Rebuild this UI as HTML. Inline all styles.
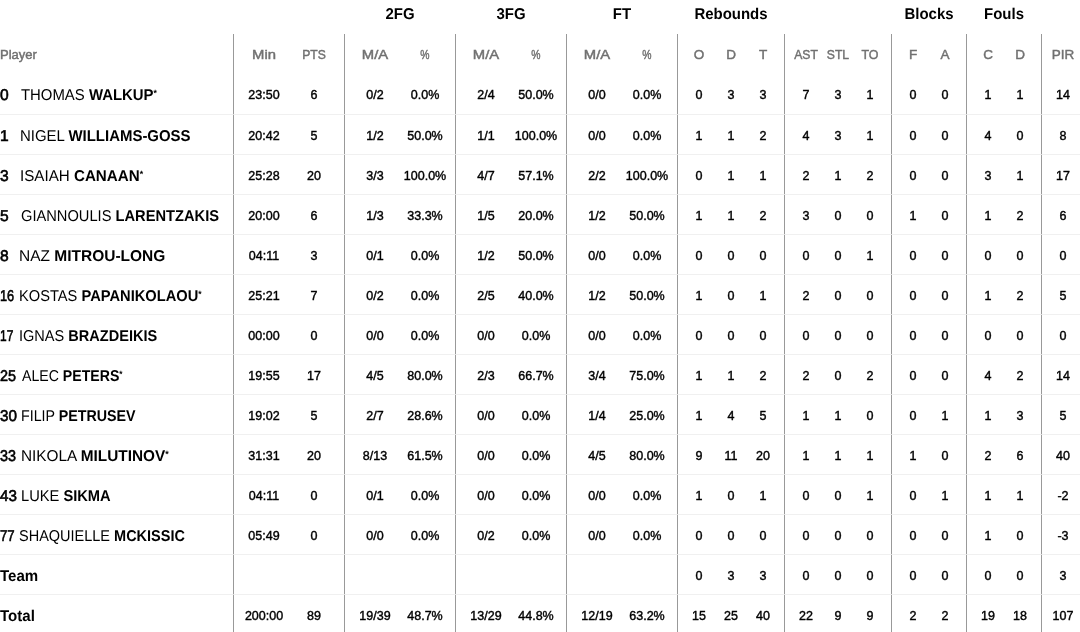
<!DOCTYPE html><html><head><meta charset="utf-8"><title>Box score</title><style>
*{margin:0;padding:0;box-sizing:border-box}
html,body{width:1080px;height:632px;overflow:hidden;background:#fff}
body{position:relative;font-family:"Liberation Sans",Arial,sans-serif;color:#000}
.g{position:absolute;top:0;height:29px;line-height:29px;text-align:center;font-weight:700;font-size:15.6px;color:#000;text-rendering:geometricPrecision;transform:scaleX(0.96)}
.h{position:absolute;top:34px;height:41px;line-height:41px;text-align:center;font-size:13.5px;color:#707070;width:60px;-webkit-text-stroke:0.45px #707070}
.vl{position:absolute;top:34px;bottom:0;width:1px;background:#999}
.hl{position:absolute;left:0;width:1080px;height:1px;background:#f0f0f0}
.d{position:absolute;width:1px;height:1px;background:#dcdcdc}
.r{position:absolute;left:0;width:1080px;height:39px}
.c{position:absolute;top:1px;height:39px;line-height:39px;text-align:center;width:60px;font-size:12.5px;color:#000;-webkit-text-stroke:0.4px #000}
.p{position:absolute;left:0;top:1px;height:39px;line-height:39px;font-size:15.6px;text-rendering:geometricPrecision;white-space:nowrap;color:#000}
.p .n{position:absolute;left:0;top:0;font-weight:400;-webkit-text-stroke:0.6px #000;font-size:15.6px;transform-origin:0 50%}
.p .nm{position:absolute;top:0;transform-origin:0 25px}
.p .f{font-weight:400}
.p .l{font-weight:700}
.p sup{font-size:9px;vertical-align:baseline;position:relative;top:-4px;font-weight:700;line-height:0;letter-spacing:0}
.p.tb{font-weight:700;font-size:15.6px;top:1px;transform-origin:0 50%;transform:scaleX(0.965)}
</style></head><body>
<div class="g" style="left:344px;width:112px">2FG</div>
<div class="g" style="left:455px;width:112px">3FG</div>
<div class="g" style="left:566px;width:112px">FT</div>
<div class="g" style="left:677px;width:108px">Rebounds</div>
<div class="g" style="left:891px;width:76px">Blocks</div>
<div class="g" style="left:966px;width:76px">Fouls</div>
<div class="h" style="left:0;width:100px;text-align:left;font-size:13px">Player</div>
<div class="h" style="left:234px;transform:scaleX(1.1)">Min</div>
<div class="h" style="left:284px;transform:scaleX(0.9)">PTS</div>
<div class="h" style="left:345px;transform:scaleX(1.1)">M/A</div>
<div class="h" style="left:395px;transform:scaleX(0.77)">%</div>
<div class="h" style="left:456px;transform:scaleX(1.1)">M/A</div>
<div class="h" style="left:506px;transform:scaleX(0.77)">%</div>
<div class="h" style="left:567px;transform:scaleX(1.1)">M/A</div>
<div class="h" style="left:617px;transform:scaleX(0.77)">%</div>
<div class="h" style="left:669px">O</div>
<div class="h" style="left:701px">D</div>
<div class="h" style="left:733px">T</div>
<div class="h" style="left:776px;transform:scaleX(0.9)">AST</div>
<div class="h" style="left:808px;transform:scaleX(0.9)">STL</div>
<div class="h" style="left:840px;transform:scaleX(0.92)">TO</div>
<div class="h" style="left:883px">F</div>
<div class="h" style="left:915px">A</div>
<div class="h" style="left:958px">C</div>
<div class="h" style="left:990px">D</div>
<div class="h" style="left:1033px">PIR</div>
<div class="vl" style="left:233px"></div>
<div class="vl" style="left:344px"></div>
<div class="vl" style="left:455px"></div>
<div class="vl" style="left:566px"></div>
<div class="vl" style="left:677px"></div>
<div class="vl" style="left:784px"></div>
<div class="vl" style="left:891px"></div>
<div class="vl" style="left:966px"></div>
<div class="vl" style="left:1041px"></div>
<div class="r" style="top:75px"><div class="p"><span class="n" style="transform:scaleX(1)">0</span><span class="nm" style="left:20.8px;transform:scaleX(0.9556)"><span class="f">THOMAS</span> <span class="l">WALKUP</span><sup>*</sup></span></div><div class="c" style="left:234px">23:50</div><div class="c" style="left:284px">6</div><div class="c" style="left:345px">0/2</div><div class="c" style="left:395px">0.0%</div><div class="c" style="left:456px">2/4</div><div class="c" style="left:506px">50.0%</div><div class="c" style="left:567px">0/0</div><div class="c" style="left:617px">0.0%</div><div class="c" style="left:669px">0</div><div class="c" style="left:701px">3</div><div class="c" style="left:733px">3</div><div class="c" style="left:776px">7</div><div class="c" style="left:808px">3</div><div class="c" style="left:840px">1</div><div class="c" style="left:883px">0</div><div class="c" style="left:915px">0</div><div class="c" style="left:958px">1</div><div class="c" style="left:990px">1</div><div class="c" style="left:1033px">14</div></div>
<div class="hl" style="top:114px"></div>
<div class="r" style="top:116px"><div class="p"><span class="n" style="transform:scaleX(1)">1</span><span class="nm" style="left:19.5px;transform:scaleX(0.9587)"><span class="f">NIGEL</span> <span class="l">WILLIAMS-GOSS</span></span></div><div class="c" style="left:234px">20:42</div><div class="c" style="left:284px">5</div><div class="c" style="left:345px">1/2</div><div class="c" style="left:395px">50.0%</div><div class="c" style="left:456px">1/1</div><div class="c" style="left:506px">100.0%</div><div class="c" style="left:567px">0/0</div><div class="c" style="left:617px">0.0%</div><div class="c" style="left:669px">1</div><div class="c" style="left:701px">1</div><div class="c" style="left:733px">2</div><div class="c" style="left:776px">4</div><div class="c" style="left:808px">3</div><div class="c" style="left:840px">1</div><div class="c" style="left:883px">0</div><div class="c" style="left:915px">0</div><div class="c" style="left:958px">4</div><div class="c" style="left:990px">0</div><div class="c" style="left:1033px">8</div></div>
<div class="hl" style="top:154px"></div>
<div class="r" style="top:156px"><div class="p"><span class="n" style="transform:scaleX(1)">3</span><span class="nm" style="left:19.5px;transform:scaleX(0.9722)"><span class="f">ISAIAH</span> <span class="l">CANAAN</span><sup>*</sup></span></div><div class="c" style="left:234px">25:28</div><div class="c" style="left:284px">20</div><div class="c" style="left:345px">3/3</div><div class="c" style="left:395px">100.0%</div><div class="c" style="left:456px">4/7</div><div class="c" style="left:506px">57.1%</div><div class="c" style="left:567px">2/2</div><div class="c" style="left:617px">100.0%</div><div class="c" style="left:669px">0</div><div class="c" style="left:701px">1</div><div class="c" style="left:733px">1</div><div class="c" style="left:776px">2</div><div class="c" style="left:808px">1</div><div class="c" style="left:840px">2</div><div class="c" style="left:883px">0</div><div class="c" style="left:915px">0</div><div class="c" style="left:958px">3</div><div class="c" style="left:990px">1</div><div class="c" style="left:1033px">17</div></div>
<div class="hl" style="top:194px"></div>
<div class="r" style="top:196px"><div class="p"><span class="n" style="transform:scaleX(1)">5</span><span class="nm" style="left:20.5px;transform:scaleX(0.9407)"><span class="f">GIANNOULIS</span> <span class="l">LARENTZAKIS</span></span></div><div class="c" style="left:234px">20:00</div><div class="c" style="left:284px">6</div><div class="c" style="left:345px">1/3</div><div class="c" style="left:395px">33.3%</div><div class="c" style="left:456px">1/5</div><div class="c" style="left:506px">20.0%</div><div class="c" style="left:567px">1/2</div><div class="c" style="left:617px">50.0%</div><div class="c" style="left:669px">1</div><div class="c" style="left:701px">1</div><div class="c" style="left:733px">2</div><div class="c" style="left:776px">3</div><div class="c" style="left:808px">0</div><div class="c" style="left:840px">0</div><div class="c" style="left:883px">1</div><div class="c" style="left:915px">0</div><div class="c" style="left:958px">1</div><div class="c" style="left:990px">2</div><div class="c" style="left:1033px">6</div></div>
<div class="hl" style="top:234px"></div>
<div class="r" style="top:236px"><div class="p"><span class="n" style="transform:scaleX(1)">8</span><span class="nm" style="left:18.9px;transform:scaleX(0.9938)"><span class="f">NAZ</span> <span class="l">MITROU-LONG</span></span></div><div class="c" style="left:234px">04:11</div><div class="c" style="left:284px">3</div><div class="c" style="left:345px">0/1</div><div class="c" style="left:395px">0.0%</div><div class="c" style="left:456px">1/2</div><div class="c" style="left:506px">50.0%</div><div class="c" style="left:567px">0/0</div><div class="c" style="left:617px">0.0%</div><div class="c" style="left:669px">0</div><div class="c" style="left:701px">0</div><div class="c" style="left:733px">0</div><div class="c" style="left:776px">0</div><div class="c" style="left:808px">0</div><div class="c" style="left:840px">1</div><div class="c" style="left:883px">0</div><div class="c" style="left:915px">0</div><div class="c" style="left:958px">0</div><div class="c" style="left:990px">0</div><div class="c" style="left:1033px">0</div></div>
<div class="hl" style="top:274px"></div>
<div class="r" style="top:276px"><div class="p"><span class="n" style="transform:scaleX(0.818)">16</span><span class="nm" style="left:18.9px;transform:scaleX(0.9404)"><span class="f">KOSTAS</span> <span class="l">PAPANIKOLAOU</span><sup>*</sup></span></div><div class="c" style="left:234px">25:21</div><div class="c" style="left:284px">7</div><div class="c" style="left:345px">0/2</div><div class="c" style="left:395px">0.0%</div><div class="c" style="left:456px">2/5</div><div class="c" style="left:506px">40.0%</div><div class="c" style="left:567px">1/2</div><div class="c" style="left:617px">50.0%</div><div class="c" style="left:669px">1</div><div class="c" style="left:701px">0</div><div class="c" style="left:733px">1</div><div class="c" style="left:776px">2</div><div class="c" style="left:808px">0</div><div class="c" style="left:840px">0</div><div class="c" style="left:883px">0</div><div class="c" style="left:915px">0</div><div class="c" style="left:958px">1</div><div class="c" style="left:990px">2</div><div class="c" style="left:1033px">5</div></div>
<div class="hl" style="top:314px"></div>
<div class="r" style="top:316px"><div class="p"><span class="n" style="transform:scaleX(0.768)">17</span><span class="nm" style="left:18.9px;transform:scaleX(0.9327)"><span class="f">IGNAS</span> <span class="l">BRAZDEIKIS</span></span></div><div class="c" style="left:234px">00:00</div><div class="c" style="left:284px">0</div><div class="c" style="left:345px">0/0</div><div class="c" style="left:395px">0.0%</div><div class="c" style="left:456px">0/0</div><div class="c" style="left:506px">0.0%</div><div class="c" style="left:567px">0/0</div><div class="c" style="left:617px">0.0%</div><div class="c" style="left:669px">0</div><div class="c" style="left:701px">0</div><div class="c" style="left:733px">0</div><div class="c" style="left:776px">0</div><div class="c" style="left:808px">0</div><div class="c" style="left:840px">0</div><div class="c" style="left:883px">0</div><div class="c" style="left:915px">0</div><div class="c" style="left:958px">0</div><div class="c" style="left:990px">0</div><div class="c" style="left:1033px">0</div></div>
<div class="hl" style="top:354px"></div>
<div class="r" style="top:356px"><div class="p"><span class="n" style="transform:scaleX(0.924)">25</span><span class="nm" style="left:21.5px;transform:scaleX(0.9054)"><span class="f">ALEC</span> <span class="l">PETERS</span><sup>*</sup></span></div><div class="c" style="left:234px">19:55</div><div class="c" style="left:284px">17</div><div class="c" style="left:345px">4/5</div><div class="c" style="left:395px">80.0%</div><div class="c" style="left:456px">2/3</div><div class="c" style="left:506px">66.7%</div><div class="c" style="left:567px">3/4</div><div class="c" style="left:617px">75.0%</div><div class="c" style="left:669px">1</div><div class="c" style="left:701px">1</div><div class="c" style="left:733px">2</div><div class="c" style="left:776px">2</div><div class="c" style="left:808px">0</div><div class="c" style="left:840px">2</div><div class="c" style="left:883px">0</div><div class="c" style="left:915px">0</div><div class="c" style="left:958px">4</div><div class="c" style="left:990px">2</div><div class="c" style="left:1033px">14</div></div>
<div class="hl" style="top:394px"></div>
<div class="r" style="top:396px"><div class="p"><span class="n" style="transform:scaleX(0.976)">30</span><span class="nm" style="left:20.9px;transform:scaleX(0.9137)"><span class="f">FILIP</span> <span class="l">PETRUSEV</span></span></div><div class="c" style="left:234px">19:02</div><div class="c" style="left:284px">5</div><div class="c" style="left:345px">2/7</div><div class="c" style="left:395px">28.6%</div><div class="c" style="left:456px">0/0</div><div class="c" style="left:506px">0.0%</div><div class="c" style="left:567px">1/4</div><div class="c" style="left:617px">25.0%</div><div class="c" style="left:669px">1</div><div class="c" style="left:701px">4</div><div class="c" style="left:733px">5</div><div class="c" style="left:776px">1</div><div class="c" style="left:808px">1</div><div class="c" style="left:840px">0</div><div class="c" style="left:883px">0</div><div class="c" style="left:915px">1</div><div class="c" style="left:958px">1</div><div class="c" style="left:990px">3</div><div class="c" style="left:1033px">5</div></div>
<div class="hl" style="top:434px"></div>
<div class="r" style="top:436px"><div class="p"><span class="n" style="transform:scaleX(0.924)">33</span><span class="nm" style="left:20.5px;transform:scaleX(0.9845)"><span class="f">NIKOLA</span> <span class="l">MILUTINOV</span><sup>*</sup></span></div><div class="c" style="left:234px">31:31</div><div class="c" style="left:284px">20</div><div class="c" style="left:345px">8/13</div><div class="c" style="left:395px">61.5%</div><div class="c" style="left:456px">0/0</div><div class="c" style="left:506px">0.0%</div><div class="c" style="left:567px">4/5</div><div class="c" style="left:617px">80.0%</div><div class="c" style="left:669px">9</div><div class="c" style="left:701px">11</div><div class="c" style="left:733px">20</div><div class="c" style="left:776px">1</div><div class="c" style="left:808px">1</div><div class="c" style="left:840px">1</div><div class="c" style="left:883px">1</div><div class="c" style="left:915px">0</div><div class="c" style="left:958px">2</div><div class="c" style="left:990px">6</div><div class="c" style="left:1033px">40</div></div>
<div class="hl" style="top:474px"></div>
<div class="r" style="top:476px"><div class="p"><span class="n" style="transform:scaleX(0.976)">43</span><span class="nm" style="left:20.9px;transform:scaleX(0.9405)"><span class="f">LUKE</span> <span class="l">SIKMA</span></span></div><div class="c" style="left:234px">04:11</div><div class="c" style="left:284px">0</div><div class="c" style="left:345px">0/1</div><div class="c" style="left:395px">0.0%</div><div class="c" style="left:456px">0/0</div><div class="c" style="left:506px">0.0%</div><div class="c" style="left:567px">0/0</div><div class="c" style="left:617px">0.0%</div><div class="c" style="left:669px">1</div><div class="c" style="left:701px">0</div><div class="c" style="left:733px">1</div><div class="c" style="left:776px">0</div><div class="c" style="left:808px">0</div><div class="c" style="left:840px">1</div><div class="c" style="left:883px">0</div><div class="c" style="left:915px">1</div><div class="c" style="left:958px">1</div><div class="c" style="left:990px">1</div><div class="c" style="left:1033px">-2</div></div>
<div class="hl" style="top:514px"></div>
<div class="r" style="top:516px"><div class="p"><span class="n" style="transform:scaleX(0.847)">77</span><span class="nm" style="left:18.9px;transform:scaleX(0.9294)"><span class="f">SHAQUIELLE</span> <span class="l">MCKISSIC</span></span></div><div class="c" style="left:234px">05:49</div><div class="c" style="left:284px">0</div><div class="c" style="left:345px">0/0</div><div class="c" style="left:395px">0.0%</div><div class="c" style="left:456px">0/2</div><div class="c" style="left:506px">0.0%</div><div class="c" style="left:567px">0/0</div><div class="c" style="left:617px">0.0%</div><div class="c" style="left:669px">0</div><div class="c" style="left:701px">0</div><div class="c" style="left:733px">0</div><div class="c" style="left:776px">0</div><div class="c" style="left:808px">0</div><div class="c" style="left:840px">0</div><div class="c" style="left:883px">0</div><div class="c" style="left:915px">0</div><div class="c" style="left:958px">1</div><div class="c" style="left:990px">0</div><div class="c" style="left:1033px">-3</div></div>
<div class="hl" style="top:554px"></div>
<div class="r" style="top:556px"><div class="p tb">Team</div><div class="c" style="left:669px">0</div><div class="c" style="left:701px">3</div><div class="c" style="left:733px">3</div><div class="c" style="left:776px">0</div><div class="c" style="left:808px">0</div><div class="c" style="left:840px">0</div><div class="c" style="left:883px">0</div><div class="c" style="left:915px">0</div><div class="c" style="left:958px">0</div><div class="c" style="left:990px">0</div><div class="c" style="left:1033px">3</div></div>
<div class="hl" style="top:594px"></div>
<div class="r" style="top:596px"><div class="p tb">Total</div><div class="c" style="left:234px">200:00</div><div class="c" style="left:284px">89</div><div class="c" style="left:345px">19/39</div><div class="c" style="left:395px">48.7%</div><div class="c" style="left:456px">13/29</div><div class="c" style="left:506px">44.8%</div><div class="c" style="left:567px">12/19</div><div class="c" style="left:617px">63.2%</div><div class="c" style="left:669px">15</div><div class="c" style="left:701px">25</div><div class="c" style="left:733px">40</div><div class="c" style="left:776px">22</div><div class="c" style="left:808px">9</div><div class="c" style="left:840px">9</div><div class="c" style="left:883px">2</div><div class="c" style="left:915px">2</div><div class="c" style="left:958px">19</div><div class="c" style="left:990px">18</div><div class="c" style="left:1033px">107</div></div>
<i class="d" style="left:233px;top:114px"></i>
<i class="d" style="left:344px;top:114px"></i>
<i class="d" style="left:455px;top:114px"></i>
<i class="d" style="left:566px;top:114px"></i>
<i class="d" style="left:677px;top:114px"></i>
<i class="d" style="left:784px;top:114px"></i>
<i class="d" style="left:891px;top:114px"></i>
<i class="d" style="left:966px;top:114px"></i>
<i class="d" style="left:1041px;top:114px"></i>
<i class="d" style="left:233px;top:154px"></i>
<i class="d" style="left:344px;top:154px"></i>
<i class="d" style="left:455px;top:154px"></i>
<i class="d" style="left:566px;top:154px"></i>
<i class="d" style="left:677px;top:154px"></i>
<i class="d" style="left:784px;top:154px"></i>
<i class="d" style="left:891px;top:154px"></i>
<i class="d" style="left:966px;top:154px"></i>
<i class="d" style="left:1041px;top:154px"></i>
<i class="d" style="left:233px;top:194px"></i>
<i class="d" style="left:344px;top:194px"></i>
<i class="d" style="left:455px;top:194px"></i>
<i class="d" style="left:566px;top:194px"></i>
<i class="d" style="left:677px;top:194px"></i>
<i class="d" style="left:784px;top:194px"></i>
<i class="d" style="left:891px;top:194px"></i>
<i class="d" style="left:966px;top:194px"></i>
<i class="d" style="left:1041px;top:194px"></i>
<i class="d" style="left:233px;top:234px"></i>
<i class="d" style="left:344px;top:234px"></i>
<i class="d" style="left:455px;top:234px"></i>
<i class="d" style="left:566px;top:234px"></i>
<i class="d" style="left:677px;top:234px"></i>
<i class="d" style="left:784px;top:234px"></i>
<i class="d" style="left:891px;top:234px"></i>
<i class="d" style="left:966px;top:234px"></i>
<i class="d" style="left:1041px;top:234px"></i>
<i class="d" style="left:233px;top:274px"></i>
<i class="d" style="left:344px;top:274px"></i>
<i class="d" style="left:455px;top:274px"></i>
<i class="d" style="left:566px;top:274px"></i>
<i class="d" style="left:677px;top:274px"></i>
<i class="d" style="left:784px;top:274px"></i>
<i class="d" style="left:891px;top:274px"></i>
<i class="d" style="left:966px;top:274px"></i>
<i class="d" style="left:1041px;top:274px"></i>
<i class="d" style="left:233px;top:314px"></i>
<i class="d" style="left:344px;top:314px"></i>
<i class="d" style="left:455px;top:314px"></i>
<i class="d" style="left:566px;top:314px"></i>
<i class="d" style="left:677px;top:314px"></i>
<i class="d" style="left:784px;top:314px"></i>
<i class="d" style="left:891px;top:314px"></i>
<i class="d" style="left:966px;top:314px"></i>
<i class="d" style="left:1041px;top:314px"></i>
<i class="d" style="left:233px;top:354px"></i>
<i class="d" style="left:344px;top:354px"></i>
<i class="d" style="left:455px;top:354px"></i>
<i class="d" style="left:566px;top:354px"></i>
<i class="d" style="left:677px;top:354px"></i>
<i class="d" style="left:784px;top:354px"></i>
<i class="d" style="left:891px;top:354px"></i>
<i class="d" style="left:966px;top:354px"></i>
<i class="d" style="left:1041px;top:354px"></i>
<i class="d" style="left:233px;top:394px"></i>
<i class="d" style="left:344px;top:394px"></i>
<i class="d" style="left:455px;top:394px"></i>
<i class="d" style="left:566px;top:394px"></i>
<i class="d" style="left:677px;top:394px"></i>
<i class="d" style="left:784px;top:394px"></i>
<i class="d" style="left:891px;top:394px"></i>
<i class="d" style="left:966px;top:394px"></i>
<i class="d" style="left:1041px;top:394px"></i>
<i class="d" style="left:233px;top:434px"></i>
<i class="d" style="left:344px;top:434px"></i>
<i class="d" style="left:455px;top:434px"></i>
<i class="d" style="left:566px;top:434px"></i>
<i class="d" style="left:677px;top:434px"></i>
<i class="d" style="left:784px;top:434px"></i>
<i class="d" style="left:891px;top:434px"></i>
<i class="d" style="left:966px;top:434px"></i>
<i class="d" style="left:1041px;top:434px"></i>
<i class="d" style="left:233px;top:474px"></i>
<i class="d" style="left:344px;top:474px"></i>
<i class="d" style="left:455px;top:474px"></i>
<i class="d" style="left:566px;top:474px"></i>
<i class="d" style="left:677px;top:474px"></i>
<i class="d" style="left:784px;top:474px"></i>
<i class="d" style="left:891px;top:474px"></i>
<i class="d" style="left:966px;top:474px"></i>
<i class="d" style="left:1041px;top:474px"></i>
<i class="d" style="left:233px;top:514px"></i>
<i class="d" style="left:344px;top:514px"></i>
<i class="d" style="left:455px;top:514px"></i>
<i class="d" style="left:566px;top:514px"></i>
<i class="d" style="left:677px;top:514px"></i>
<i class="d" style="left:784px;top:514px"></i>
<i class="d" style="left:891px;top:514px"></i>
<i class="d" style="left:966px;top:514px"></i>
<i class="d" style="left:1041px;top:514px"></i>
<i class="d" style="left:233px;top:554px"></i>
<i class="d" style="left:344px;top:554px"></i>
<i class="d" style="left:455px;top:554px"></i>
<i class="d" style="left:566px;top:554px"></i>
<i class="d" style="left:677px;top:554px"></i>
<i class="d" style="left:784px;top:554px"></i>
<i class="d" style="left:891px;top:554px"></i>
<i class="d" style="left:966px;top:554px"></i>
<i class="d" style="left:1041px;top:554px"></i>
<i class="d" style="left:233px;top:594px"></i>
<i class="d" style="left:344px;top:594px"></i>
<i class="d" style="left:455px;top:594px"></i>
<i class="d" style="left:566px;top:594px"></i>
<i class="d" style="left:677px;top:594px"></i>
<i class="d" style="left:784px;top:594px"></i>
<i class="d" style="left:891px;top:594px"></i>
<i class="d" style="left:966px;top:594px"></i>
<i class="d" style="left:1041px;top:594px"></i>
</body></html>
